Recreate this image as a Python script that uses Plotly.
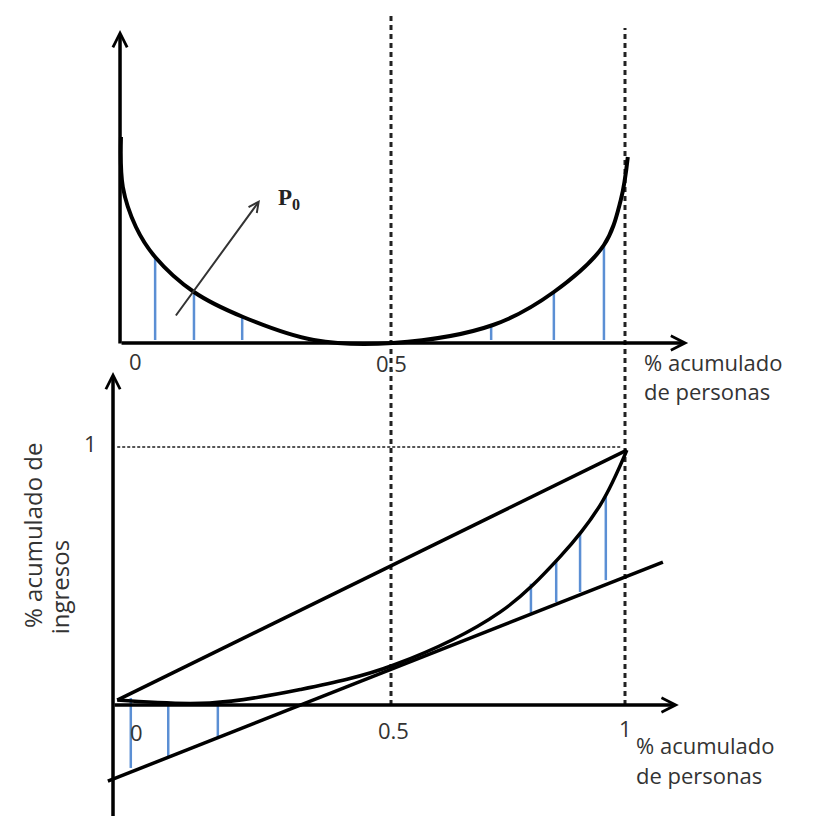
import plotly.graph_objects as go

# ---------------- data (diagram units) ----------------
# x: % acumulado de personas ; top panel y: density-like height ; bottom y: % acumulado de ingresos
top_curve_x = [-0.077, -0.073, -0.045, -0.004, 0.079, 0.184, 0.335, 0.504, 0.718, 0.848, 0.955, 0.991, 1.006]
top_curve_y = [1.03, 0.78, 0.58, 0.43, 0.255, 0.13, 0.015, 0.0, 0.09, 0.255, 0.49, 0.715, 0.93]
top_strip_x = [-0.004, 0.079, 0.182, 0.714, 0.848, 0.955]
top_strip_y = [0.43, 0.255, 0.13, 0.08, 0.255, 0.49]

lorenz_x = [-0.085, 0.113, 0.306, 0.506, 0.733, 0.861, 0.947, 1.004]
lorenz_y = [0.019, 0.008, 0.060, 0.155, 0.360, 0.574, 0.775, 0.988]
diag_x = [-0.085, 1.004]
diag_y = [0.019, 0.988]
tangent_x = [-0.105, 1.081]
tangent_y = [-0.295, 0.554]
bottom_strip_x = [-0.056, 0.024, 0.130, 0.799, 0.853, 0.904, 0.959]
bottom_strip_top = [0.027, 0.0, 0.0, 0.470, 0.560, 0.667, 0.806]
bottom_strip_bottom = [-0.244, -0.205, -0.128, 0.357, 0.399, 0.438, 0.484]

guide_x = [0.5, 1.0]
guide_top = [2.674, 2.624]
tick_labels = ["0", "0.5", "1"]

BLACK = "#000000"
BLUE = "#5B8FD4"
TXT = "#333333"
FONT = "Open Sans"

fig = go.Figure()

# dashed guides
for gx, gt in zip(guide_x, guide_top):
    fig.add_trace(go.Scatter(x=[gx, gx], y=[0, gt], mode="lines",
                             line=dict(color="#222222", width=3, dash="5px,4px")))
# dotted level 1
fig.add_trace(go.Scatter(x=[-0.085, 0.99], y=[1.0, 1.0], mode="lines",
                         line=dict(color="#555555", width=2, dash="3px,2px")))

# top strips
sx, sy = [], []
for x, y in zip(top_strip_x, top_strip_y):
    sx += [x, x, None]
    sy += [0.015, y, None]
fig.add_trace(go.Scatter(x=sx, y=sy, mode="lines", yaxis="y2",
                         line=dict(color=BLUE, width=2.5)))
# top curve
fig.add_trace(go.Scatter(x=top_curve_x, y=top_curve_y, mode="lines", yaxis="y2",
                         line=dict(color=BLACK, width=4, shape="spline", smoothing=1.0)))

# bottom strips
bx, by = [], []
for x, t, b in zip(bottom_strip_x, bottom_strip_top, bottom_strip_bottom):
    bx += [x, x, None]
    by += [t, b, None]
fig.add_trace(go.Scatter(x=bx, y=by, mode="lines", line=dict(color=BLUE, width=2.5)))

fig.add_trace(go.Scatter(x=diag_x, y=diag_y, mode="lines", line=dict(color=BLACK, width=3.5)))
fig.add_trace(go.Scatter(x=tangent_x, y=tangent_y, mode="lines", line=dict(color=BLACK, width=3.5)))
fig.add_trace(go.Scatter(x=lorenz_x, y=lorenz_y, mode="lines",
                         line=dict(color=BLACK, width=3.5, shape="spline", smoothing=1.0)))

anns = []
def arrow(x0, y0, x1, y1, yref, width=3.5, color=BLACK, size=0.8, head=5):
    anns.append(dict(x=x1, y=y1, ax=x0, ay=y0, xref="x", yref=yref, axref="x", ayref=yref,
                     showarrow=True, arrowhead=head, arrowsize=size, arrowwidth=width,
                     arrowcolor=color, text=""))

# axes
arrow(-0.079, -0.01, -0.079, 1.565, "y2")
arrow(-0.079, 0, 1.135, 0, "y2")
arrow(-0.094, -0.47, -0.094, 1.291, "y")
arrow(-0.094, 0, 1.115, 0, "y")
# P0 arrow
arrow(0.038, 0.13, 0.220, 0.715, "y2", width=2, color="#333333", size=1.0, head=5)

def label(text, x, y, yref, size=22, xanchor="center", yanchor="middle", **kw):
    anns.append(dict(text=text, x=x, y=y, xref="x", yref=yref, showarrow=False,
                     xanchor=xanchor, yanchor=yanchor,
                     font=dict(family=kw.pop("family", FONT), size=size, color=kw.pop("color", TXT)), **kw))

label("<b>P<sub>0</sub></b>", 0.282, 0.72, "y2", size=23, family="Liberation Serif", color="#222222")
label(tick_labels[0], -0.045, -0.09, "y2")
label(tick_labels[1], 0.502, -0.10, "y2")
label("% acumulado", 1.036, -0.095, "y2", xanchor="left")
label("de personas", 1.036, -0.24, "y2", xanchor="left")

label(tick_labels[0], -0.043, -0.105, "y")
label(tick_labels[1], 0.506, -0.097, "y")
label(tick_labels[2], 1.002, -0.09, "y")
label(tick_labels[2], -0.143, 1.016, "y")
label("% acumulado", 1.019, -0.155, "y", xanchor="left")
label("de personas", 1.019, -0.270, "y", xanchor="left")
label("% acumulado de", -0.265, 0.659, "y", textangle=-90, size=24)
label("ingresos", -0.209, 0.457, "y", textangle=-90, size=24)

fig.update_layout(
    width=814, height=816, margin=dict(l=0, r=0, t=0, b=0),
    paper_bgcolor="white", plot_bgcolor="white", showlegend=False,
    xaxis=dict(range=[-0.31838, 1.42094], visible=False, fixedrange=True),
    yaxis=dict(range=[-0.46124, 2.70155], visible=False, fixedrange=True),
    yaxis2=dict(range=[-2.405, 1.675], visible=False, overlaying="y", fixedrange=True),
    annotations=anns,
)
fig.write_html("out.html")
